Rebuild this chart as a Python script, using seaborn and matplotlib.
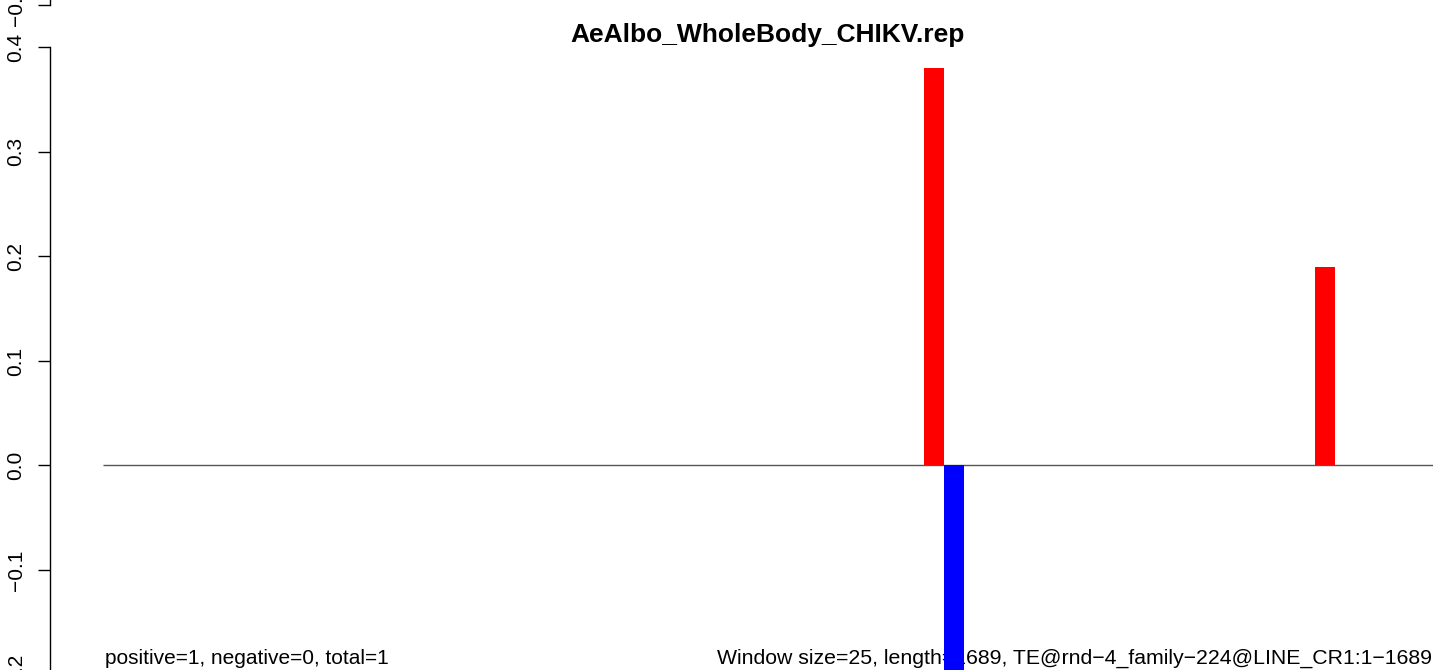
import matplotlib
matplotlib.use("Agg")
import matplotlib.pyplot as plt
import numpy as np
import pandas as pd
import seaborn as sns

# window starts (bp) and scores
seq_length = 1689
window_size = 25
pos_start = [1026, 1515]
pos_value = [0.38, 0.19]
neg_start = [1051]
neg_value = [-0.38]
y_ticks = [-0.2, -0.1, 0.0, 0.1, 0.2, 0.3, 0.4]
y_tick_labels = ["\u22120.2", "\u22120.1", "0.0", "0.1", "0.2", "0.3", "0.4"]
title = "AeAlbo_WholeBody_CHIKV.rep"
left_note = "positive=1, negative=0, total=1"
right_note = "Window size=25, length=1689, TE@rnd\u22124_family\u2212224@LINE_CR1:1\u22121689"

df = pd.DataFrame({
    "start": pos_start + neg_start,
    "score": pos_value + neg_value,
    "strand": ["pos"] * len(pos_start) + ["neg"] * len(neg_start),
})
df["center"] = df["start"] + window_size / 2

sns.set_theme(style="white", rc={"text.color": "black", "axes.labelcolor": "black",
                                 "xtick.color": "black", "ytick.color": "black"})
plt.rcParams["font.family"] = ["Liberation Sans", "DejaVu Sans"]

W, H = 1433, 670
fig = plt.figure(figsize=(W / 100, H / 100), dpi=100)
ax = fig.add_axes([50 / W, 1 - 674.6 / H, 1436 / W, (674.6 - 47.3) / H])
ax.patch.set_alpha(0)

sns.barplot(data=df, x="center", y="score", hue="strand", native_scale=True,
            palette={"pos": "#FF0000", "neg": "#0000FF"}, dodge=False,
            width=1.0, errorbar=None, orient="x", legend=False,
            saturation=1, linewidth=0, ax=ax, zorder=2)

ax.hlines(0, 0, seq_length, color="#555555", lw=1, zorder=1)

ax.set_xlim(-53 / 0.8, -53 / 0.8 + 1436 / 0.8)
ax.set_ylim(-0.2, 0.4)
ax.set_xticks([])
ax.set_xlabel("")
ax.set_ylabel("")
ax.set_yticks(y_ticks)
ax.set_yticklabels(y_tick_labels, rotation=90, va="center", fontsize=15)
ax.tick_params(axis="y", direction="out", length=8.6, width=1, pad=9,
               colors="black", left=True)
for side in ["top", "right", "bottom"]:
    ax.spines[side].set_visible(False)
ax.spines["left"].set_bounds(-0.2, 0.4)
ax.spines["left"].set_color("black")
ax.spines["left"].set_linewidth(1)
ax.set_title(title, fontsize=19, fontweight="bold", pad=4, color="black")

ax.text(105 / W, 6 / H, left_note, transform=fig.transFigure, fontsize=15,
        ha="left", va="baseline", zorder=0.5)
ax.text(1432 / W, 6 / H, right_note, transform=fig.transFigure, fontsize=15.3,
        ha="right", va="baseline", zorder=0.5)

# clipped axis of the panel above
ax_top = fig.add_axes([50 / W, 1 - 5 / H, 0.3, 0.5])
ax_top.patch.set_alpha(0)
ax_top.set_ylim(-0.2, 0.4)
ax_top.set_xticks([])
ax_top.set_yticks([-0.2])
ax_top.set_yticklabels(["\u22120.2"], rotation=90, va="center", fontsize=15)
ax_top.tick_params(axis="y", direction="out", length=8.6, width=1, pad=9,
                   colors="black", left=True)
for side in ["top", "right", "bottom"]:
    ax_top.spines[side].set_visible(False)
ax_top.spines["left"].set_color("black")
ax_top.spines["left"].set_linewidth(1)

fig.savefig("out.png", dpi=100)
